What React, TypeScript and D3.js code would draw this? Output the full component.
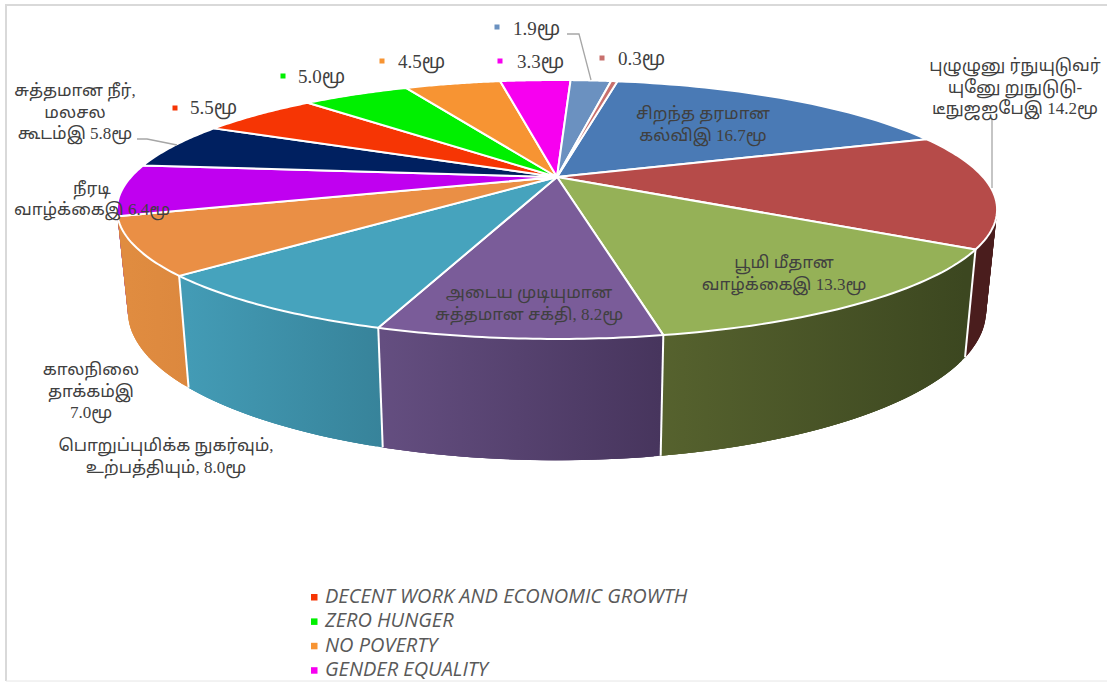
import React from "react";
import * as d3 from "d3";

const W = 1107, H = 682;
const values = [16.7, 14.2, 13.3, 8.2, 8.0, 7.0, 6.4, 5.8, 5.5, 5.0, 4.5, 3.3, 1.9, 0.3];
const topColors = ["#4a7ab5", "#b64b49", "#95b157", "#7a5c99", "#46a3bd", "#ea8f45", "#c000f0", "#002060", "#f63504", "#00f000", "#f79433", "#f700f0", "#6b91c0", "#c8706d"];
const wallLeft = ["#2c4870", "#4a1d1d", "#56622e", "#644e80", "#439bb5", "#e08c40", "#7a0098", "#001030", "#901f02", "#009000", "#b06a20", "#a000a0", "#40587a", "#804040"];
const wallRight = ["#2c4870", "#4a1d1d", "#3c4720", "#47355d", "#37839a", "#dc883e", "#7a0098", "#001030", "#901f02", "#009000", "#b06a20", "#a000a0", "#40587a", "#804040"];
const insideLabels = [
  { lines: ["சிறந்த  தரமான", "கல்விஇ  16.7மூ"], x: 703, y: 119 },
  { lines: ["பூமி  மீதான", "வாழ்க்கைஇ  13.3மூ"], x: 784, y: 268 },
  { lines: ["அடைய  முடியுமான", "சுத்தமான  சக்தி,  8.2மூ"], x: 529, y: 298 },
  { lines: ["புழுழுனு  ர்நுயுடுவர்", "யுனேு  றுநுடுடு-", "டீநுஜஐபேஇ  14.2மூ"], x: 1015, y: 71 },
  { lines: ["பொறுப்புமிக்க  நுகர்வும்,", "உற்பத்தியும்,  8.0மூ"], x: 166, y: 451 },
  { lines: ["காலநிலை", "தாக்கம்இ", "7.0மூ"], x: 91, y: 375 },
  { lines: ["நீரடி"], x: 92, y: 194 },
  { lines: ["வாழ்க்கைஇ  6.4மூ"], x: 92, y: 215 },
  { lines: ["சுத்தமான  நீர்,", "மலசல", "கூடம்இ  5.8மூ"], x: 75, y: 96 },
];
const smallLabels = [
  { text: "5.5மூ", color: "#f63504", mx: 175, my: 108, x: 190, y: 114 },
  { text: "5.0மூ", color: "#00f000", mx: 283, my: 76, x: 298, y: 83 },
  { text: "4.5மூ", color: "#f79433", mx: 382, my: 61, x: 398, y: 68 },
  { text: "3.3மூ", color: "#f700f0", mx: 500, my: 61, x: 517, y: 68 },
  { text: "1.9மூ", color: "#6b91c0", mx: 497, my: 27, x: 513, y: 35 },
  { text: "0.3மூ", color: "#c8706d", mx: 602, my: 58, x: 618, y: 65 },
];
const legendNames = ["DECENT WORK AND ECONOMIC GROWTH", "ZERO HUNGER", "NO POVERTY", "GENDER EQUALITY"];
const legendColors = ["#f63504", "#00f000", "#f79433", "#f700f0"];
const leaders = [
  [[137, 139], [147, 139], [177, 145]],
  [[567, 34], [579, 34], [591, 80]],
  [[992, 118], [992, 188]],
];

const CX = 557, CY = 177, A = 426, Y_A = 121.3, PERSP = -0.251;
const START = (10.2 * Math.PI) / 180;
const project = (t: number): [number, number] => {
  const u = Math.sin(t), v = -Math.cos(t), w = 1 + PERSP * v;
  return [CX + (A * u) / w, CY + (Y_A * v) / w];
};
const drop = ([x, y]: [number, number]): [number, number] => [CX + 0.975 * (x - CX), 274 + 1.15 * (y - CY)];
const arcPts = (a: number, b: number) => d3.range(0, 41).map((i) => project(a + ((b - a) * i) / 40));
const line = d3.line();
const pie = d3.pie<number>().sort(null).startAngle(START).endAngle(START + 2 * Math.PI);
const slices = pie(values);
const SERIF = "'Liberation Serif','Noto Sans Tamil','Noto Sans','DejaVu Sans',serif";
const isNear = (t: number) => {
  const a = t % (2 * Math.PI);
  return a > Math.PI * 0.55 && a < Math.PI * 1.4;
};

export default function App() {
  const walls = slices
    .map((s, i) => ({ s, i }))
    .sort((p, q) => Math.abs(Math.PI - (q.s.startAngle + q.s.endAngle) / 2) - Math.abs(Math.PI - (p.s.startAngle + p.s.endAngle) / 2));
  return (
    <div style={{ position: "fixed", left: 0, top: 0, width: W, height: H }}>
      <svg width={W} height={H} viewBox={`0 0 ${W} ${H}`} style={{ display: "block", background: "#fff" }}>
        <defs>
          {slices.map((s, i) => {
            const xs = arcPts(s.startAngle, s.endAngle).map(drop).map((p) => p[0]);
            return (
              <linearGradient key={i} id={`wall${i}`} gradientUnits="userSpaceOnUse" x1={d3.min(xs)} x2={d3.max(xs)} y1={0} y2={0}>
                <stop offset="0" stopColor={wallLeft[i]} />
                <stop offset="1" stopColor={wallRight[i]} />
              </linearGradient>
            );
          })}
        </defs>
        <path d="M6 681V5H1107" fill="none" stroke="#d9d9d9" strokeWidth={2} />
        <path d="M6 681H1107" fill="none" stroke="#e6e6e6" strokeWidth={1} />
        {walls.map(({ s, i }) => {
          const top = arcPts(s.startAngle, s.endAngle);
          return (
            <g key={i} fill={`url(#wall${i})`}>
              {top.slice(1).map((p, k) => {
                const a = top[k], b = top[Math.min(k + 3, top.length - 1)];
                return <path key={k} d={line([a, b, drop(b), drop(a)])! + "Z"} />;
              })}
            </g>
          );
        })}
        {slices.filter((s) => isNear(s.startAngle)).map((s, i) => {
          const p = project(s.startAngle);
          return <path key={i} d={line([p, drop(p)])!} stroke="#fff" strokeWidth={2} fill="none" />;
        })}
        {slices.map((s, i) => (
          <path key={i} d={line([[CX, CY], ...arcPts(s.startAngle, s.endAngle)])! + "Z"} fill={topColors[i]} stroke="#fff" strokeWidth={2} strokeLinejoin="round" />
        ))}
        {leaders.map((l, i) => (
          <path key={i} d={line(l as [number, number][])!} fill="none" stroke="#a6a6a6" strokeWidth={1.3} />
        ))}
        <g fontFamily={SERIF} fontSize={17} fill="#404040" textAnchor="middle" style={{ whiteSpace: "pre" }}>
          {insideLabels.map((l, i) =>
            l.lines.map((t, j) => (
              <text key={`${i}-${j}`} x={l.x} y={l.y + j * 21.5}>{t}</text>
            ))
          )}
        </g>
        <g fontFamily={SERIF} fontSize={19} fill="#404040">
          {smallLabels.map((l, i) => (
            <g key={i}>
              <rect x={l.mx - 2.5} y={l.my - 2.5} width={5} height={5} fill={l.color} />
              <text x={l.x} y={l.y}>{l.text}</text>
            </g>
          ))}
        </g>
        <g fontFamily="'Open Sans',sans-serif" fontSize={20} fontStyle="italic" fill="#595959">
          {legendNames.map((n, i) => (
            <g key={n}>
              <rect x={311} y={594 + i * 24.4} width={6.5} height={6.5} fill={legendColors[i]} />
              <text x={325} y={603 + i * 24.4}>{n}</text>
            </g>
          ))}
        </g>
      </svg>
    </div>
  );
}
